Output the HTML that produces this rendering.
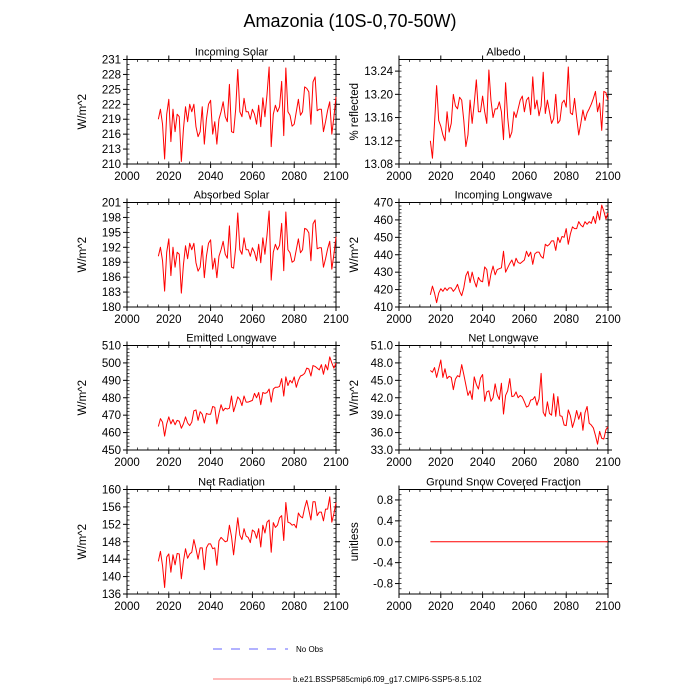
<!DOCTYPE html>
<html><head><meta charset="utf-8"><style>
html,body{margin:0;padding:0;background:#fff;}
svg{display:block;font-family:"Liberation Sans",sans-serif;}
</style></head><body>
<svg id="chart" width="700" height="700" viewBox="0 0 700 700">
<text x="350" y="27" text-anchor="middle" font-size="18">Amazonia (10S-0,70-50W)</text>
<g>
<line x1="213" y1="649" x2="288" y2="649" stroke="#6666ff" stroke-width="1" stroke-dasharray="9,9"/>
<text x="296" y="652" font-size="8">No Obs</text>
<line x1="213" y1="679" x2="291" y2="679" stroke="#ff7777" stroke-width="1"/>
<text x="293" y="682" font-size="8">b.e21.BSSP585cmip6.f09_g17.CMIP6-SSP5-8.5.102</text>
</g>
</svg>
<script>
const years = [];
for (let y = 2015; y <= 2100; y++) years.push(y);
const incomingSolar = [219,221,218,211,220,223,214.5,221,216.5,220,219.5,210.5,217,221.5,218.5,222,220.5,222,217.5,215.5,216.5,221.5,214,219,222,222.8,216,218.5,214,219,220.5,222.5,219.5,218.5,226,216.5,216.3,221,229,220.5,219.5,223.2,220.5,220.5,219,221,220,218,221.8,217.5,223.3,219.5,224,229.5,213.5,220,221.8,220.5,221.5,226.6,215.7,229.3,220.5,219.8,217.6,218,220.5,223,219.8,220.5,225.5,225.2,224.5,218,226.5,227.5,220.7,221,221,216.5,218.5,220.8,222.5,216,219.5,223.5];
const albedo = [13.12,13.09,13.15,13.215,13.155,13.145,13.13,13.12,13.17,13.135,13.15,13.2,13.18,13.175,13.195,13.19,13.155,13.11,13.13,13.19,13.15,13.185,13.225,13.17,13.17,13.197,13.17,13.15,13.242,13.19,13.16,13.175,13.175,13.187,13.17,13.122,13.22,13.16,13.125,13.135,13.17,13.16,13.175,13.19,13.197,13.17,13.19,13.195,13.165,13.23,13.175,13.19,13.163,13.18,13.238,13.167,13.19,13.17,13.15,13.158,13.2,13.15,13.155,13.185,13.19,13.178,13.247,13.168,13.165,13.193,13.16,13.13,13.15,13.173,13.155,13.168,13.175,13.183,13.193,13.205,13.17,13.185,13.138,13.205,13.203,13.19];
const absorbedSolar = [190.2,192,189.3,183.2,191,193.7,186.3,192,188,191,190.6,182.8,188.5,192.3,189.7,192.8,191.5,192.8,188.9,187.2,188,192.3,185.9,190.2,192.8,193.5,187.6,189.8,185.9,190.2,191.5,193.2,190.6,189.8,196.3,188,187.8,191.9,198.9,191.5,190.6,193.9,191.5,191.5,190.2,191.9,191,189.3,192.6,188.9,193.9,190.6,194.5,199.3,185.4,191,192.6,191.5,192.4,196.8,187.3,199.1,191.5,190.9,189,189.3,191.5,193.7,190.9,191.5,195.8,195.6,194.9,189.3,196.7,197.5,191.7,191.9,191.9,188,189.7,191.7,193.2,187.6,190.6,194.1];
const incomingLW = [417,422,418,412.5,418,420.5,419,421,419.5,421,421,419,420.5,423,419,416.5,421,428,430.5,424,430,425,421.5,427,425,424.5,433,431.5,422,429,433.5,428.5,431.5,432,432.5,442,430,432.5,435,437,433.5,438,435.5,435,436,437,442,439,441.5,434.5,440.5,441.5,441.5,439,438,446,445,446,448,448,442.5,450,447,450.5,450,455,446,452,456,455,455,459,457,456,459,457.5,459,458,462,458,465,460,468.5,465,460.5,464];
const emittedLW = [463.5,468,466,458,465,469,465,467.5,464.5,467,466.5,462.5,465,469,465.5,464,466,472.5,473,467,472,470.5,465.5,471,470.5,470.5,475,474.5,465,471,476,472.5,474,473.5,474,481,472,476,480.5,479,475.5,481,477.5,477.5,478,478.5,482.5,480,483,476,483,482.5,483,485,477.5,485,486,486,486.5,491,481,492,487,490,488.5,492,486,490,492.5,493,494,497,496.5,492.5,498.5,498,497,496,499,493.5,499,496,503.5,500,497,500];
const netLW = [46.7,46.4,47.2,45.5,47,48.5,45.5,47,45.3,45.7,45.5,43.4,45.2,45.8,45.6,47.7,46,44.2,42.4,43.2,41.7,45.6,44.3,43.5,45.4,46,41.4,43,43.2,41.4,42,44.4,42.5,41.7,44.5,39.2,42.4,43.2,45.3,42.2,42.3,43,42,42.4,42.1,41.3,40.4,40.6,41.6,41.7,42.2,40.7,41.8,46.2,39.5,38.8,41.3,39.3,39,42.7,38.8,42.2,38.9,38.8,37.3,37.2,39.9,38.9,36.9,38.1,39.8,38.3,39.5,36.4,39.4,40.5,37.6,37.3,36.8,35.5,34,36.2,35,34.9,36.5,37];
const netRad = [143.5,145.8,142.5,137.5,144.5,145.2,141,145,142.7,145.3,145.2,139.5,143.5,146.4,144.2,145.2,145.6,148.5,146.4,144,146.6,146.6,141.6,146.6,147.5,147.5,146.4,146.6,142.6,148.2,149,148.5,148,148.2,151.8,149.2,145,149.3,153.5,149.5,148.5,151,149.3,149,147.8,150.7,150.3,148.8,151,146.8,151.8,150,152.5,153,145.6,152.4,151.3,151.8,153.5,154,148.3,157,152.5,152.3,151.8,152,151.2,154.6,153.8,153.5,155.8,157.5,155.3,153,157.2,157.2,154,154.8,154.8,152.8,155.5,155.5,158.3,152.5,154.5,157];
const snowFrac = years.map(() => 0);

const xTicks = [2000,2020,2040,2060,2080,2100];

const NS = "http://www.w3.org/2000/svg";
const svg = document.getElementById('chart');
function mk(tag, attrs, parent) {
  const e = document.createElementNS(NS, tag);
  for (const k in attrs) e.setAttribute(k, attrs[k]);
  parent.appendChild(e);
  return e;
}

const panels = [
  {key:'incoming-solar', title:'Incoming Solar', ylab:'W/m^2', data:incomingSolar, min:210, max:231, step:3, minor:1, dec:0, col:0, row:0},
  {key:'albedo', title:'Albedo', ylab:'% reflected', data:albedo, min:13.08, max:13.26, step:0.04, minor:0.01, dec:2, col:1, row:0, tmax:13.24},
  {key:'absorbed-solar', title:'Absorbed Solar', ylab:'W/m^2', data:absorbedSolar, min:180, max:201, step:3, minor:1, dec:0, col:0, row:1},
  {key:'incoming-longwave', title:'Incoming Longwave', ylab:'W/m^2', data:incomingLW, min:410, max:470, step:10, minor:2, dec:0, col:1, row:1},
  {key:'emitted-longwave', title:'Emitted Longwave', ylab:'W/m^2', data:emittedLW, min:450, max:510, step:10, minor:2, dec:0, col:0, row:2},
  {key:'net-longwave', title:'Net Longwave', ylab:'W/m^2', data:netLW, min:33, max:51, step:3, minor:1, dec:1, col:1, row:2},
  {key:'net-radiation', title:'Net Radiation', ylab:'W/m^2', data:netRad, min:136, max:160, step:4, minor:1, dec:0, col:0, row:3},
  {key:'snow-fraction', title:'Ground Snow Covered Fraction', ylab:'unitless', data:snowFrac, min:-1, max:1, step:0.4, minor:0.1, dec:1, col:1, row:3, tmin:-0.8, tmax:0.8}
];
const colX = [127, 399];
const rowY = [59.5, 202.5, 345.5, 489.5];
const PW = 209, PH = 104.5;

panels.forEach(p => {
  const L = colX[p.col], T = rowY[p.row], R = L + PW, B = T + PH;
  const g = mk('g', {}, svg);
  
  
  const sx = v => L + (v - 2000) / 100 * PW;
  const sy = v => B - (v - p.min) / (p.max - p.min) * PH;

  for (let yr = 2000; yr <= 2100; yr += 5) {
    const x = sx(yr);
    mk('line', {x1:x, y1:B, x2:x, y2:B-2.5, stroke:'#000', 'stroke-width':0.7}, g);
    mk('line', {x1:x, y1:T, x2:x, y2:T+2.5, stroke:'#000', 'stroke-width':0.7}, g);
  }
  xTicks.forEach(yr => {
    const x = sx(yr);
    mk('line', {x1:x, y1:B, x2:x, y2:B+4, stroke:'#000', 'stroke-width':1}, g);
    mk('line', {x1:x, y1:T, x2:x, y2:T-4, stroke:'#000', 'stroke-width':1}, g);
    const t = mk('text', {x:x, y:B+16, 'text-anchor':'middle', 'font-size':11.5}, g);
    t.textContent = yr;
    
    
  });
  const nMinor = Math.round((p.max - p.min) / p.minor);
  for (let i = 0; i <= nMinor; i++) {
    const y = sy(p.min + i * p.minor);
    mk('line', {x1:L, y1:y, x2:L+2.5, y2:y, stroke:'#000', 'stroke-width':0.7}, g);
    mk('line', {x1:R, y1:y, x2:R-2.5, y2:y, stroke:'#000', 'stroke-width':0.7}, g);
  }
  const tmin = p.tmin !== undefined ? p.tmin : p.min;
  const tmax = p.tmax !== undefined ? p.tmax : p.max;
  const nMaj = Math.round((tmax - tmin) / p.step);
  for (let i = 0; i <= nMaj; i++) {
    const v = tmin + i * p.step;
    const y = sy(v);
    mk('line', {x1:L, y1:y, x2:L-4, y2:y, stroke:'#000', 'stroke-width':1}, g);
    mk('line', {x1:R, y1:y, x2:R+4, y2:y, stroke:'#000', 'stroke-width':1}, g);
    const t = mk('text', {x:L-6, y:y+4, 'text-anchor':'end', 'font-size':11.5}, g);
    t.textContent = (Math.abs(v) < 1e-9 ? 0 : v).toFixed(p.dec);
    
    
  }
  const fr = mk('rect', {x:L, y:T, width:PW, height:PH, fill:'none', stroke:'#000', 'stroke-width':1}, g);
  
  
  const tt = mk('text', {x:(L+R)/2, y:T-4, 'text-anchor':'middle', 'font-size':11}, g);
  tt.textContent = p.title;
  
  
  const yl = mk('text', {x:0, y:0, 'text-anchor':'middle', 'font-size':11.5, transform:`translate(${L-41},${(T+B)/2}) rotate(-90)`}, g);
  yl.textContent = p.ylab;
  
  
  const pts = p.data.map((v, i) => sx(years[i]).toFixed(2) + ',' + sy(v).toFixed(2)).join(' ');
  const pl = mk('polyline', {points:pts, fill:'none', stroke:'#ff0000', 'stroke-width':1, 'stroke-linejoin':'round'}, g);
  
  
});
</script>
</body></html>
